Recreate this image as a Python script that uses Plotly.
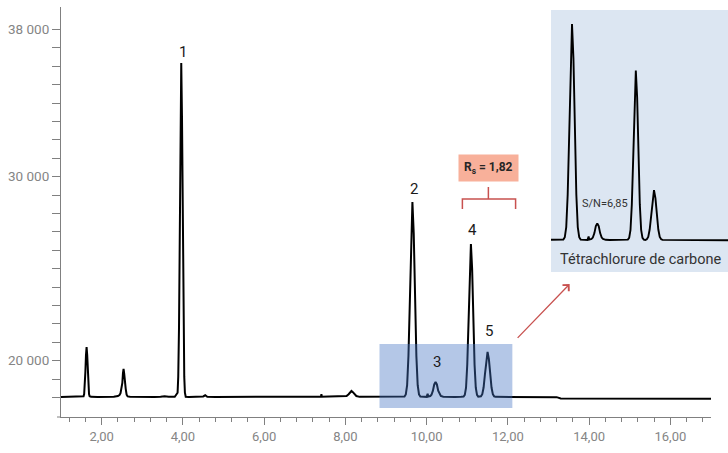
import plotly.graph_objects as go

# ---------------- data ----------------
lead_rt  = [1.0, 1.2, 1.35, 1.45, 1.52]
lead_sig = [18030, 18035, 18025, 18040, 18035]

pa_rt  = [1.555, 1.57, 1.585, 1.60, 1.615, 1.63, 1.645, 1.66, 1.675, 1.69, 1.705]
pa_sig = [18070, 18190, 18600, 19390, 20310, 20745, 20310, 19390, 18600, 18190, 18070]

m1_rt  = [1.74, 1.9, 2.1, 2.3, 2.40, 2.44]
m1_sig = [18035, 18030, 18030, 18040, 18080, 18130]

pb_rt  = [2.465, 2.487, 2.51, 2.525, 2.54, 2.555, 2.57, 2.593, 2.615, 2.64]
pb_sig = [18230, 18470, 18790, 19310, 19549, 19310, 18790, 18470, 18150, 18060]

m2_rt  = [2.70, 2.9, 3.1, 3.3, 3.45, 3.55, 3.65, 3.8]
m2_sig = [18040, 18030, 18035, 18030, 18045, 18070, 18040, 18035]

p1_rt  = [3.87, 3.886, 3.905, 3.923, 3.942, 3.96, 3.978, 3.997, 4.015, 4.034, 4.05, 4.07]
p1_sig = [18260, 19120, 21840, 27100, 33280, 36180, 33280, 27100, 21840, 19120, 18260, 18040]

m3_rt  = [4.15, 4.4, 4.5, 4.55, 4.6, 4.8, 5.2, 5.8, 6.4, 7.0, 7.3, 7.40, 7.41, 7.42, 7.6, 7.8, 7.95]
m3_sig = [18030, 18030, 18060, 18120, 18040, 18030, 18030, 18030, 18030, 18035, 18040, 18040, 18180, 18040, 18050, 18060, 18040]

bump_rt  = [8.03, 8.08, 8.115, 8.15, 8.185, 8.22, 8.27]
bump_sig = [18080, 18180, 18290, 18353, 18290, 18180, 18080]

m4_rt  = [8.35, 8.6, 8.9, 9.2, 9.40]
m4_sig = [18035, 18030, 18030, 18035, 18040]

p2_rt  = [9.455, 9.4875, 9.52, 9.5525, 9.585, 9.6175, 9.65, 9.6825, 9.715, 9.7475, 9.78, 9.8125, 9.845]
p2_sig = [18050, 18168, 18666, 20255, 23328, 26930, 28625, 26930, 23328, 20255, 18666, 18168, 18050]

m5_rt  = [9.93, 10.0, 10.025, 10.04]
m5_sig = [18030, 18035, 18200, 18050]

p3_rt  = [10.09, 10.12, 10.155, 10.1875, 10.22, 10.2525, 10.285, 10.32, 10.35, 10.41]
p3_sig = [18080, 18150, 18370, 18710, 18842, 18710, 18370, 18150, 18080, 18040]

m6_rt  = [10.5, 10.7, 10.85]
m6_sig = [18030, 18030, 18040]

p4_rt  = [10.91, 10.94, 10.97, 11.00, 11.03, 11.06, 11.09, 11.12, 11.15, 11.18, 11.21, 11.24, 11.27]
p4_sig = [18047, 18138, 18529, 19776, 22186, 25012, 26342, 25012, 22186, 19776, 18529, 18138, 18047]

p5_rt  = [11.305, 11.3375, 11.37, 11.4025, 11.435, 11.4675, 11.50, 11.5325, 11.565, 11.5975, 11.63, 11.6625, 11.695]
p5_sig = [18035, 18062, 18177, 18543, 19251, 20082, 20473, 20082, 19251, 18543, 18177, 18062, 18035]

tail_rt  = [11.9, 12.2, 12.5, 12.8, 13.0, 13.2, 13.3, 13.8, 14.5, 15.2, 16.0, 16.6, 17.0]
tail_sig = [18030, 18030, 18040, 18020, 18030, 18020, 17950, 17945, 17940, 17935, 17930, 17930, 17930]

peak_ids = ["1", "2", "3", "4", "5"]
peak_rt  = [3.96, 9.65, 10.22, 11.09, 11.50]
peak_top = [36180, 28625, 18842, 26342, 20473]

x_tick_vals = [2, 4, 6, 8, 10, 12, 14, 16]
x_tick_text = ["2,00", "4,00", "6,00", "8,00", "10,00", "12,00", "14,00", "16,00"]
y_label_vals = [20000, 30000, 38000]
y_label_text = ["20 000", "30 000", "38 000"]

rs_text = "<b>R<sub>s</sub> = 1,82</b>"
sn_text = "S/N=6,85"
inset_title = "Tétrachlorure de carbone"

# ---------------- assemble trace ----------------
segments_rt = [lead_rt, pa_rt, m1_rt, pb_rt, m2_rt, p1_rt, m3_rt, bump_rt, m4_rt,
               p2_rt, m5_rt, p3_rt, m6_rt, p4_rt, p5_rt, tail_rt]
segments_sig = [lead_sig, pa_sig, m1_sig, pb_sig, m2_sig, p1_sig, m3_sig, bump_sig, m4_sig,
                p2_sig, m5_sig, p3_sig, m6_sig, p4_sig, p5_sig, tail_sig]
rt = [v for s in segments_rt for v in s]
sig = [v for s in segments_sig for v in s]

FONT = "Roboto"
AXC = "#808080"
TXC = "#858585"
RED = "#c8514f"

fig = go.Figure()
fig.add_trace(go.Scatter(x=rt, y=sig, mode="lines", line=dict(color="#000000", width=2),
                         hoverinfo="skip", showlegend=False))
fig.add_trace(go.Scatter(x=rt, y=sig, mode="lines", line=dict(color="#000000", width=1.9),
                         xaxis="x2", yaxis="y2", hoverinfo="skip", showlegend=False))

y_tick_vals = list(range(18000, 38001, 1000))
y_tick_text = [y_label_text[y_label_vals.index(v)] if v in y_label_vals else " " for v in y_tick_vals]

fig.update_layout(
    width=728, height=453,
    margin=dict(l=61, r=0, t=7, b=36),
    paper_bgcolor="white", plot_bgcolor="rgba(0,0,0,0)",
    showlegend=False,
    font=dict(family=FONT),
    xaxis=dict(domain=[0, 650 / 667], range=[1.0, 17.0], showgrid=False, zeroline=False,
               showline=True, linecolor=AXC, linewidth=1,
               tickmode="array", tickvals=x_tick_vals, ticktext=x_tick_text,
               ticks="outside", ticklen=7, tickcolor=AXC, tickwidth=1,
               tickfont=dict(family=FONT, size=13, color=TXC),
               minor=dict(ticks="outside", ticklen=4, tickcolor=AXC, tick0=1.2, dtick=0.4, showgrid=False)),
    yaxis=dict(range=[16940, 39223], showgrid=False, zeroline=False,
               showline=True, linecolor=AXC, linewidth=1,
               tickmode="array", tickvals=y_tick_vals, ticktext=y_tick_text,
               ticks="outside", ticklen=8, tickcolor=AXC, tickwidth=1,
               tickfont=dict(family=FONT, size=13.5, color=TXC)),
    xaxis2=dict(domain=[490 / 667, 1], anchor="y2", range=[9.176, 13.17], visible=False),
    yaxis2=dict(domain=[145 / 410, 407 / 410], anchor="x2", range=[16461, 29310], visible=False),
)

shapes = [
    # inset background
    dict(type="rect", xref="x2 domain", yref="y2 domain", x0=0, x1=1, y0=0, y1=1,
         fillcolor="#dce6f2", line=dict(width=0), layer="below"),
    # highlighted region
    dict(type="rect", xref="x", yref="y", x0=8.84, x1=12.11, y0=17429, y1=20908,
         fillcolor="rgba(68,114,196,0.4)", line=dict(width=0), layer="above"),
    # bracket
    dict(type="path", xref="x", yref="y",
         path="M 10.88 28245 L 10.88 28788 L 12.19 28788 L 12.19 28245 M 11.52 28788 L 11.52 29440",
         line=dict(color=RED, width=1.5)),
    # small overhang of the x axis line to the left of the y axis
    dict(type="line", xref="paper", yref="paper", x0=-4 / 667, x1=0, y0=0, y1=0,
         line=dict(color=AXC, width=1)),
]
fig.update_layout(shapes=shapes)

label_shift = [11, 13, 20, 14, 21]
for pid, px, py, sh in zip(peak_ids, peak_rt, peak_top, label_shift):
    fig.add_annotation(x=px, y=py, text=pid, showarrow=False, xanchor="center", yanchor="middle",
                       yshift=sh, xshift=1.5, font=dict(family=FONT, size=15, color="#1a1a1a"))

fig.add_annotation(x=11.52, y=29440, text=rs_text, showarrow=False, yanchor="bottom", yshift=5,
                   bgcolor="#f8b09a", borderpad=5, font=dict(family=FONT, size=12, color="#262626"))

fig.add_annotation(x=13.52, y=24168, ax=-55, ay=57, text=" ", showarrow=True,
                   arrowhead=4, arrowsize=1.3, arrowwidth=1.3, arrowcolor=RED)

fig.add_annotation(x=10.384, y=19845, xref="x2", yref="y2", text=sn_text, showarrow=False,
                   font=dict(family=FONT, size=11, color="#333333"))
fig.add_annotation(x=11.21, y=17074, xref="x2", yref="y2", text=inset_title, showarrow=False,
                   font=dict(family=FONT, size=14.5, color="#333333"))

fig.write_html("out.html",
               config={"displayModeBar": False},
               post_script="document.body.style.margin='0';document.body.style.padding='0';")
